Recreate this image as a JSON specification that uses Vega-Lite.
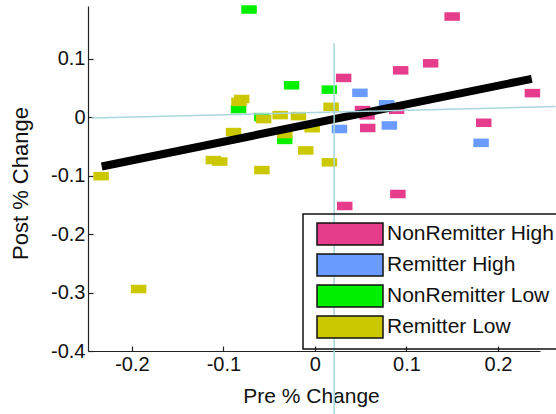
{
  "$schema": "https://vega.github.io/schema/vega-lite/v6.json",
  "width": 452,
  "height": 345,
  "autosize": {"type": "none"},
  "padding": {"left": 88, "top": 6, "right": 16, "bottom": 63},
  "background": "white",
  "config": {
    "view": {"stroke": null},
    "font": "Liberation Sans",
    "axis": {
      "grid": false,
      "domainColor": "#222222",
      "domainWidth": 1.2,
      "tickColor": "#222222",
      "tickSize": -5,
      "tickWidth": 1.2,
      "labelFont": "Liberation Sans",
      "labelFontSize": 20,
      "labelColor": "#111111",
      "titleFont": "Liberation Sans",
      "titleFontSize": 21,
      "titleFontWeight": "normal",
      "titleColor": "#111111"
    }
  },
  "datasets": {
    "points": [
      {"x": 0.150, "y": 0.172, "group": "NonRemitter High"},
      {"x": 0.1265, "y": 0.092, "group": "NonRemitter High"},
      {"x": 0.0937, "y": 0.080, "group": "NonRemitter High"},
      {"x": 0.0314, "y": 0.067, "group": "NonRemitter High"},
      {"x": 0.2377, "y": 0.041, "group": "NonRemitter High"},
      {"x": 0.052, "y": 0.012, "group": "NonRemitter High"},
      {"x": 0.057, "y": 0.003, "group": "NonRemitter High"},
      {"x": 0.0893, "y": 0.0125, "group": "NonRemitter High"},
      {"x": 0.0577, "y": -0.0186, "group": "NonRemitter High"},
      {"x": 0.1845, "y": -0.0097, "group": "NonRemitter High"},
      {"x": 0.0907, "y": -0.1315, "group": "NonRemitter High"},
      {"x": 0.0326, "y": -0.152, "group": "NonRemitter High"},
      {"x": 0.0492, "y": 0.0415, "group": "Remitter High"},
      {"x": 0.0783, "y": 0.0219, "group": "Remitter High"},
      {"x": 0.0268, "y": -0.0203, "group": "Remitter High"},
      {"x": 0.0814, "y": -0.0143, "group": "Remitter High"},
      {"x": 0.1816, "y": -0.044, "group": "Remitter High"},
      {"x": -0.072, "y": 0.184, "group": "NonRemitter Low"},
      {"x": -0.0255, "y": 0.0544, "group": "NonRemitter Low"},
      {"x": 0.0158, "y": 0.047, "group": "NonRemitter Low"},
      {"x": -0.0835, "y": 0.0137, "group": "NonRemitter Low"},
      {"x": -0.058, "y": 0.000, "group": "NonRemitter Low"},
      {"x": -0.033, "y": -0.039, "group": "NonRemitter Low"},
      {"x": -0.083, "y": 0.026, "group": "Remitter Low"},
      {"x": -0.080, "y": 0.031, "group": "Remitter Low"},
      {"x": -0.056, "y": -0.0034, "group": "Remitter Low"},
      {"x": -0.038, "y": 0.0034, "group": "Remitter Low"},
      {"x": -0.018, "y": 0.0017, "group": "Remitter Low"},
      {"x": 0.0177, "y": 0.0176, "group": "Remitter Low"},
      {"x": -0.003, "y": -0.019, "group": "Remitter Low"},
      {"x": -0.089, "y": -0.0256, "group": "Remitter Low"},
      {"x": -0.033, "y": -0.029, "group": "Remitter Low"},
      {"x": -0.010, "y": -0.057, "group": "Remitter Low"},
      {"x": -0.111, "y": -0.0735, "group": "Remitter Low"},
      {"x": -0.104, "y": -0.076, "group": "Remitter Low"},
      {"x": -0.058, "y": -0.0906, "group": "Remitter Low"},
      {"x": 0.0158, "y": -0.0773, "group": "Remitter Low"},
      {"x": -0.2337, "y": -0.101, "group": "Remitter Low"},
      {"x": -0.1927, "y": -0.294, "group": "Remitter Low"}
    ],
    "fit": [
      {"x": -0.233, "y": -0.0845},
      {"x": 0.237, "y": 0.0655}
    ],
    "hline": [
      {"x": -0.244, "y": -0.0017},
      {"x": 0.263, "y": 0.018}
    ],
    "vline": [
      {"x": 0.021, "y": 0.1265},
      {"x": 0.021, "y": -0.51}
    ]
  },
  "layer": [
    {
      "data": {"name": "points"},
      "mark": {"type": "point", "filled": true, "opacity": 1, "shape": "M-1,-0.55H1V0.55H-1Z", "size": 240},
      "encoding": {
        "x": {
          "field": "x", "type": "quantitative",
          "scale": {"domain": [-0.248, 0.246], "nice": false, "zero": false},
          "axis": {"values": [-0.2, -0.1, 0, 0.1, 0.2], "title": "Pre % Change", "labelExpr": "replace(format(datum.value, '.1~f'), '\u2212', '-')", "labelPadding": 8, "titleX": 223, "titleY": 51, "titleBaseline": "alphabetic", "titleAlign": "center"}
        },
        "y": {
          "field": "y", "type": "quantitative",
          "scale": {"domain": [-0.4, 0.19], "nice": false, "zero": false},
          "axis": {"values": [-0.4, -0.3, -0.2, -0.1, 0, 0.1], "title": "Post % Change", "labelExpr": "replace(format(datum.value, '.1~f'), '\u2212', '-')", "labelPadding": 8, "titleFontSize": 22, "titleX": -61, "titleY": 177, "titleAngle": -90, "titleBaseline": "alphabetic", "titleAlign": "center"}
        },
        "color": {
          "field": "group", "type": "nominal",
          "scale": {
            "domain": ["NonRemitter High", "Remitter High", "NonRemitter Low", "Remitter Low"],
            "range": ["#e63c8c", "#6a9bff", "#00f000", "#ccc800"]
          },
          "legend": {
            "orient": "none",
            "legendX": 215,
            "legendY": 208,
            "title": null,
            "strokeColor": "#111111",
            "padding": 8,
            "symbolType": "M-3,-1H3V1H-3Z",
            "symbolSize": 484,
            "symbolStrokeColor": "#111111",
            "symbolStrokeWidth": 1.5,
            "symbolOpacity": 1,
            "symbolOffset": 27,
            "labelFont": "Liberation Sans",
            "labelFontSize": 21,
            "labelColor": "#111111",
            "labelOffset": 25,
            "labelLimit": 400,
            "rowPadding": 3,
            "encode": {"legend": {"update": {"strokeWidth": {"value": 1.5}}}}
          }
        }
      }
    },
    {
      "data": {"name": "fit"},
      "mark": {"type": "line", "color": "black", "strokeWidth": 8, "strokeCap": "butt"},
      "encoding": {
        "x": {"field": "x", "type": "quantitative"},
        "y": {"field": "y", "type": "quantitative"}
      }
    },
    {
      "data": {"name": "hline"},
      "mark": {"type": "line", "color": "#a9d6df", "strokeWidth": 1.5},
      "encoding": {
        "x": {"field": "x", "type": "quantitative"},
        "y": {"field": "y", "type": "quantitative"}
      }
    },
    {
      "data": {"name": "vline"},
      "mark": {"type": "line", "color": "#a9d6df", "strokeWidth": 1.5},
      "encoding": {
        "x": {"field": "x", "type": "quantitative"},
        "y": {"field": "y", "type": "quantitative"}
      }
    }
  ]
}
